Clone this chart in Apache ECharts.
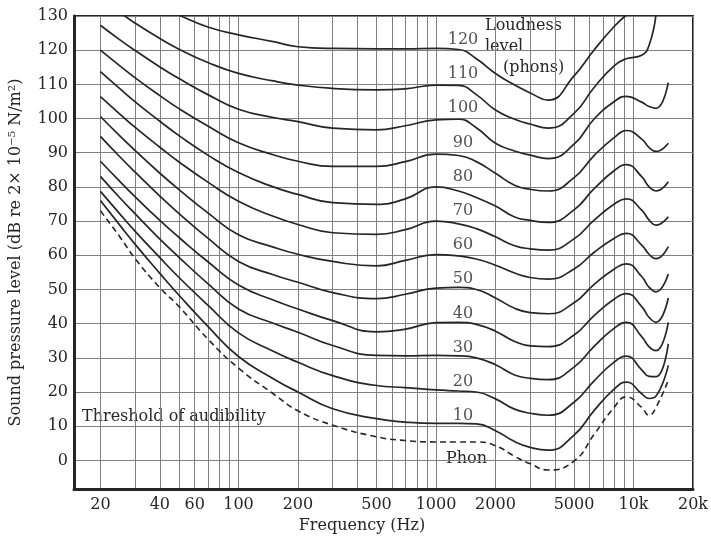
<!DOCTYPE html>
<html>
<head>
<meta charset="utf-8">
<script src="https://cdn.jsdelivr.net/npm/echarts@6.0.0/dist/echarts.min.js"></script>
</head>
<body style="margin:0;background:#fff;">
<div id="main" style="width:711px;height:539px;"></div>
<script>
// frequencies (Hz) at which the curves were read
var freqs = [20, 25, 30, 40, 50, 70, 100, 150, 200, 300, 500, 700, 1000, 1300, 1600, 2000, 2500, 3000, 3700, 5000, 6300, 8000, 9200, 11000, 12000, 13000, 15000];

// sound pressure level (dB) of each loudness contour
var phon120 = [null, null, null, 132.5, 130.2, 126.8, 124.5, 122.5, 121.0, 120.5, 120.4, 120.4, 120.5, 120.2, 117.5, 113.2, 109.8, 107.5, 105.4, 112.5, 120.0, 127.0, 130.3, null, null, null, null];
var phon110 = [null, 131.1, 127.9, 123.4, 120.3, 116.4, 113.2, 111.0, 109.8, 108.8, 108.4, 108.7, 109.8, 109.7, 107.0, 102.5, 99.8, 98.4, 97.2, 101.5, 109.0, 115.5, 117.5, 118.5, 121.5, 130.5, null];
var phon100 = [127.3, 123.1, 119.9, 115.1, 111.7, 107.0, 102.7, 100.3, 99.1, 97.2, 96.7, 97.9, 99.6, 99.8, 97.3, 92.8, 90.5, 89.3, 88.3, 92.5, 99.8, 105.0, 106.5, 104.8, 103.5, 103.0, 110.5];
var phon90 = [120.0, 115.5, 111.9, 106.7, 102.9, 97.8, 92.9, 89.4, 87.5, 86.0, 86.0, 87.4, 89.6, 89.2, 87.4, 84.0, 80.5, 79.3, 78.8, 82.7, 89.1, 94.5, 96.5, 94.0, 91.5, 90.4, 92.8];
var phon80 = [113.7, 108.8, 104.9, 99.2, 95.0, 89.3, 84.2, 80.0, 77.8, 75.4, 74.9, 76.5, 80.0, 78.8, 76.9, 74.4, 71.2, 70.2, 69.6, 73.3, 79.4, 84.8, 86.5, 83.0, 80.0, 78.8, 81.5];
var phon70 = [106.4, 101.4, 97.4, 91.6, 87.3, 81.4, 75.8, 71.4, 69.0, 66.6, 66.1, 67.5, 70.0, 69.2, 67.8, 65.4, 62.8, 61.9, 61.5, 64.8, 70.2, 75.0, 76.5, 73.2, 70.3, 68.8, 71.3];
var phon60 = [100.6, 95.0, 90.6, 84.0, 79.2, 72.4, 66.0, 62.4, 60.3, 58.2, 56.9, 58.5, 60.2, 59.8, 58.9, 57.1, 54.8, 53.5, 53.0, 56.0, 60.8, 65.0, 66.4, 63.0, 60.3, 59.0, 62.5];
var phon50 = [94.8, 88.9, 84.3, 77.3, 72.2, 65.0, 58.2, 54.3, 52.1, 49.1, 47.3, 48.6, 50.4, 50.6, 50.0, 47.5, 44.5, 43.2, 42.9, 46.1, 51.4, 56.0, 57.5, 53.8, 50.6, 49.3, 54.5];
var phon40 = [87.5, 81.7, 77.1, 70.2, 65.2, 58.1, 51.3, 46.9, 44.3, 40.9, 37.6, 38.4, 40.3, 40.4, 39.8, 37.8, 34.8, 33.5, 33.3, 36.7, 42.3, 47.2, 48.8, 45.0, 41.8, 40.4, 47.5];
var phon30 = [83.1, 76.9, 72.1, 64.7, 59.4, 51.7, 44.3, 40.1, 37.5, 33.6, 30.7, 30.6, 30.7, 30.6, 30.0, 28.0, 25.0, 24.0, 23.6, 27.3, 33.3, 38.7, 40.4, 36.2, 33.2, 32.1, 40.4];
var phon20 = [78.7, 72.2, 67.0, 59.3, 53.5, 45.4, 37.3, 31.9, 28.7, 24.8, 21.9, 21.3, 20.6, 20.3, 20.0, 18.0, 15.0, 13.8, 13.2, 17.0, 23.2, 28.8, 30.5, 26.5, 24.6, 24.5, 34.1];
var phon10 = [76.0, 68.9, 63.2, 54.7, 48.3, 39.2, 30.4, 23.9, 20.0, 15.1, 12.2, 11.2, 10.8, 10.8, 10.7, 8.7, 5.5, 3.8, 3.0, 7.4, 14.5, 20.9, 22.9, 19.5, 18.1, 18.8, 27.8];
var threshold = [73.0, 65.5, 59.0, 50.5, 45.0, 35.5, 27.0, 19.5, 14.5, 10.3, 6.9, 5.8, 5.4, 5.4, 5.4, 4.3, 1.2, -1.0, -2.8, -0.2, 7.5, 15.6, 18.6, 15.5, 13.2, 15.5, 23.5];

var levels = [120, 110, 100, 90, 80, 70, 60, 50, 40, 30, 20, 10];
var contours = [phon120, phon110, phon100, phon90, phon80, phon70, phon60, phon50, phon40, phon30, phon20, phon10];

// axis labels / grid lines
var freqLabels = [20, 40, 60, 100, 200, 500, 1000, 2000, 5000, 10000, 20000];
var freqGrid = [20, 30, 40, 50, 60, 70, 80, 90, 100, 200, 300, 400, 500, 600, 700, 800, 900,
    1000, 2000, 3000, 4000, 5000, 6000, 7000, 8000, 9000, 10000, 20000];
var dbTicks = [0, 10, 20, 30, 40, 50, 60, 70, 80, 90, 100, 110, 120, 130];

var FONT = 'DejaVu Serif';
var INK = '#262626';
var labelFreq = 1370; // where the phon numbers sit

function lg(f) { return Math.log10(f); }

function toPoints(vals) {
    var pts = [];
    for (var i = 0; i < freqs.length; i++) {
        if (vals[i] !== null) pts.push([lg(freqs[i]), vals[i]]);
    }
    return pts;
}

var series = [];
for (var k = 0; k < contours.length; k++) {
    series.push({
        name: levels[k] + ' phon',
        type: 'line',
        data: toPoints(contours[k]),
        smooth: 0.5,
        symbol: 'none',
        lineStyle: { color: INK, width: 1.7 },
        clip: true
    });
}
series.push({
    name: 'Threshold',
    type: 'line',
    data: toPoints(threshold),
    smooth: 0.5,
    symbol: 'none',
    lineStyle: { color: INK, width: 1.6, type: [6, 4] },
    clip: true
});
series.push({
    name: 'levels',
    type: 'scatter',
    symbol: 'circle',
    symbolSize: 1,
    itemStyle: { color: 'rgba(0,0,0,0)' },
    silent: true,
    data: levels.map(function (l) {
        return { value: [lg(labelFreq), l + 3], label: { formatter: String(l) } };
    }),
    label: { show: true, position: 'inside', color: INK, fontFamily: FONT, fontSize: 16 }
});

var myChart = echarts.init(document.getElementById('main'));

var option = {
    animation: false,
    backgroundColor: '#fff',
    grid: {
        left: 68, right: 13, top: 16, bottom: 48,
        show: true, borderColor: INK, borderWidth: 2
    },
    xAxis: {
        type: 'value',
        min: lg(14.7),
        max: lg(20000),
        name: 'Frequency (Hz)',
        nameLocation: 'middle',
        nameGap: 25,
        nameTextStyle: { fontFamily: FONT, fontSize: 16, color: INK, padding: [0, 43, 0, 0] },
        axisLine: { show: true, onZero: false, lineStyle: { color: INK, width: 3 } },
        axisTick: { show: false, customValues: freqGrid.map(lg) },
        axisLabel: {
            customValues: freqLabels.map(lg),
            margin: 8,
            fontFamily: FONT, fontSize: 16, color: INK,
            formatter: function (v) {
                var f = Math.round(Math.pow(10, v));
                return f >= 10000 ? (f / 1000) + 'k' : String(f);
            }
        },
        splitLine: { show: true, lineStyle: { color: '#808080', width: 1 } }
    },
    yAxis: {
        type: 'value',
        min: -8.4,
        max: 130,
        name: 'Sound pressure level (dB re 2\u00d7 10\u207b\u2075 N/m\u00b2)',
        nameLocation: 'middle',
        nameGap: 50,
        nameTextStyle: { fontFamily: FONT, fontSize: 16, color: INK },
        axisLine: { show: true, lineStyle: { color: INK, width: 3 } },
        axisTick: { show: false, customValues: dbTicks },
        axisLabel: { customValues: dbTicks, margin: 6, fontFamily: FONT, fontSize: 16, color: INK },
        splitLine: { show: true, lineStyle: { color: '#808080', width: 1 } }
    },
    graphic: [
        { type: 'text', left: 485, top: 18, silent: true,
          style: { text: 'Loudness', font: '16px "DejaVu Serif"', fill: INK } },
        { type: 'text', left: 485, top: 39, silent: true,
          style: { text: 'level', font: '16px "DejaVu Serif"', fill: INK } },
        { type: 'text', left: 503, top: 60, silent: true,
          style: { text: '(phons)', font: '16px "DejaVu Serif"', fill: INK } },
        { type: 'text', left: 80, top: 408, silent: true,
          style: { text: 'Threshold of audibility', font: '16px "DejaVu Serif"', fill: INK,
                   backgroundColor: '#fff', padding: [1, 2, 1, 2] } },
        { type: 'text', left: 446, top: 451, silent: true,
          style: { text: 'Phon', font: '16px "DejaVu Serif"', fill: INK } }
    ],
    series: series
};

myChart.setOption(option);
</script>
</body>
</html>
